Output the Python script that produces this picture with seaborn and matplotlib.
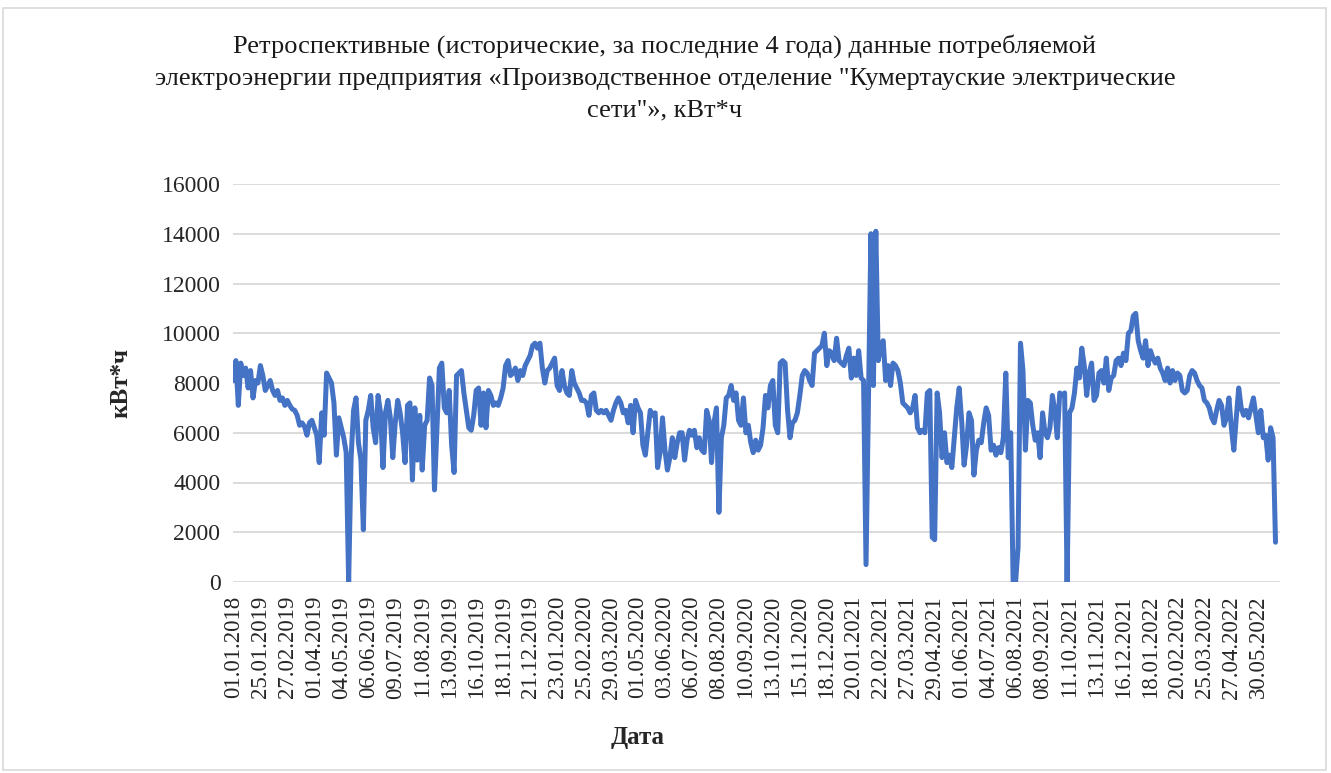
import numpy as np
import matplotlib
matplotlib.use("Agg")
import matplotlib.pyplot as plt
import seaborn as sns
from matplotlib.patches import Rectangle

# Подписи оси X (каждые 33 дня)
tick_labels = [
    "01.01.2018", "25.01.2019", "27.02.2019", "01.04.2019", "04.05.2019",
    "06.06.2019", "09.07.2019", "11.08.2019", "13.09.2019", "16.10.2019",
    "18.11.2019", "21.12.2019", "23.01.2020", "25.02.2020", "29.03.2020",
    "01.05.2020", "03.06.2020", "06.07.2020", "08.08.2020", "10.09.2020",
    "13.10.2020", "15.11.2020", "18.12.2020", "20.01.2021", "22.02.2021",
    "27.03.2021", "29.04.2021", "01.06.2021", "04.07.2021", "06.08.2021",
    "08.09.2021", "11.10.2021", "13.11.2021", "16.12.2021", "18.01.2022",
    "20.02.2022", "25.03.2022", "27.04.2022", "30.05.2022",
]
label_every = 33      # дней между подписями
step_days = 3         # шаг снятых значений
n_days = 1281         # всего дней на оси

# Потребление, кВт*ч (значение каждые 3 дня)
consumption = [
    8100, 8900, 7100, 8800, 8300, 8600, 7800, 8500, 7400, 8100, 8000,
    8700, 8300, 7700, 7900, 8100, 7700, 7500, 7700, 7300, 7400, 7100,
    7300, 7100, 6950, 6900, 6700, 6300, 6400, 6250, 5900, 6400, 6500,
    6200, 5900, 4800, 6800, 5900, 8400, 8200, 8000, 7200, 5100, 6600,
    6200, 5800, 5200, 0, 5000, 6900, 7400, 5600, 4900, 2100, 6500,
    6900, 7500, 6200, 5600, 7500, 6800, 4600, 6800, 7300, 6600, 5000,
    6400, 7300, 6800, 6000, 4800, 7100, 7200, 4100, 7000, 4900, 6700,
    4500, 6300, 6500, 8200, 7900, 3700, 6100, 8600, 8800, 7000, 6800,
    7700, 5500, 4400, 8300, 8400, 8500, 7600, 6900, 6200, 6100, 6700,
    7700, 7800, 6300, 7600, 6200, 7700, 7500, 7100, 7200, 7100, 7400,
    7800, 8700, 8900, 8300, 8400, 8600, 8100, 8500, 8300, 8700, 8900,
    9100, 9500, 9600, 9400, 9600, 8600, 8000, 8500, 8600, 8800, 9000,
    7900, 7700, 8500, 7900, 7600, 7500, 8500, 8000, 7800, 7600, 7300,
    7300, 7200, 6700, 7500, 7600, 6900, 6800, 6900, 6800, 6900, 6700,
    6500, 6900, 7200, 7400, 7200, 6800, 6900, 6400, 7100, 6000, 7300,
    7000, 6800, 5500, 5100, 6000, 6900, 6700, 6800, 4600, 5200, 6600,
    5300, 4500, 5000, 5800, 5000, 5600, 6000, 6000, 4900, 5700, 6100,
    5900, 6100, 5400, 5800, 5300, 5200, 6900, 6500, 4800, 6400, 7000,
    2800, 5800, 6300, 7400, 7500, 7900, 7300, 7600, 6500, 6300, 7400,
    6000, 6300, 5600, 5200, 5700, 5300, 5500, 6200, 7500, 7000, 7900,
    8100, 6300, 6000, 8800, 8900, 8800, 6900, 5800, 6400, 6500, 6800,
    7500, 8300, 8500, 8400, 8100, 7900, 9200, 9300, 9400, 9500, 10000,
    8700, 9300, 9200, 8900, 9800, 8900, 8800, 8700, 9100, 9400, 8200,
    9000, 8300, 9300, 8200, 8100, 700, 7500, 14000, 7900, 14100, 8900,
    9500, 9700, 8100, 8700, 7900, 8800, 8700, 8500, 8000, 7200, 7100,
    7000, 6800, 7000, 7500, 6200, 6000, 6100, 6000, 7600, 7700, 1800,
    1700, 7600, 6800, 5000, 6000, 4800, 5100, 4600, 5800, 7000, 7800,
    6500, 4700, 5500, 6800, 6500, 4300, 5300, 5700, 5600, 6400, 7000,
    6700, 5300, 5500, 5100, 5400, 5200, 5800, 8400, 5000, 6000, 0,
    0, 1400, 9600, 8500, 5300, 7300, 7200, 6300, 5700, 6000, 5000,
    6800, 6000, 5800, 6200, 7500, 6900, 5800, 7600, 7500, 7600, 0,
    6800, 7000, 7600, 8600, 8200, 9400, 8700, 7500, 8400, 8800, 7300,
    7500, 8400, 8500, 8000, 9000, 7700, 8200, 8300, 8900, 9000, 8700,
    9200, 8900, 10000, 10100, 10700, 10800, 9700, 9300, 9000, 9700, 8700,
    9300, 9000, 8800, 9000, 8600, 8400, 8100, 8600, 8000, 8500, 8100,
    8400, 8300, 7700, 7600, 7700, 8300, 8500, 8400, 8100, 7900, 7800,
    7300, 7200, 7000, 6600, 6400, 6900, 7300, 7100, 6300, 6600, 7400,
    6200, 5300, 6600, 7800, 7000, 6700, 6900, 6600, 7000, 7400, 6700,
    6000, 6900, 5800, 5900, 4900, 6200, 5800, 1600,
]

title = ("Ретроспективные (исторические, за последние 4 года) данные потребляемой\n"
         "электроэнергии предприятия «Производственное отделение \"Кумертауские электрические\n"
         "сети\"», кВт*ч")

sns.set_theme(style="whitegrid", rc={"grid.color": "#d9d9d9", "grid.linewidth": 1.3})
plt.rcParams["font.family"] = ["Liberation Serif", "DejaVu Serif"]

fig = plt.figure(figsize=(13.31, 7.73), dpi=100)
ax = fig.add_axes([233 / 1331, 1 - 582 / 773, 1047 / 1331, 398 / 773])

days = np.arange(len(consumption)) * step_days
sns.lineplot(x=days, y=consumption, ax=ax, color="#4472C4", linewidth=3.6)

ax.set_xlim(-0.5, n_days - 0.5)
ax.set_ylim(0, 16000)
ax.set_yticks(np.arange(0, 16001, 2000))
ax.set_yticklabels([str(v) for v in range(0, 16001, 2000)], fontsize=17)
ax.set_xticks(np.arange(len(tick_labels)) * label_every)
ax.set_xticklabels(tick_labels, rotation=90, fontsize=16.5)
ax.grid(axis="x", visible=False)
ax.tick_params(axis="x", length=0, pad=10)
ax.tick_params(axis="y", length=0, pad=9)
for s in ax.spines.values():
    s.set_visible(False)

ax.set_ylabel("кВт*ч", fontsize=18, fontweight="bold")
ax.yaxis.set_label_coords(-0.0965, 0.5)
ax.set_xlabel("Дата", fontsize=18, fontweight="bold")
ax.xaxis.set_label_coords(0.386, -0.362)

fig.text(0.4996, 1 - 34 / 773, title, ha="center", va="top", fontsize=19,
         linespacing=1.58, color="#1a1a1a")

fig.patches.append(Rectangle((3 / 1331, 3 / 773), 1323 / 1331, 762 / 773,
                             transform=fig.transFigure, fill=False,
                             edgecolor="#d9d9d9", linewidth=1.2))

fig.savefig("out.png", dpi=100, facecolor="white")
